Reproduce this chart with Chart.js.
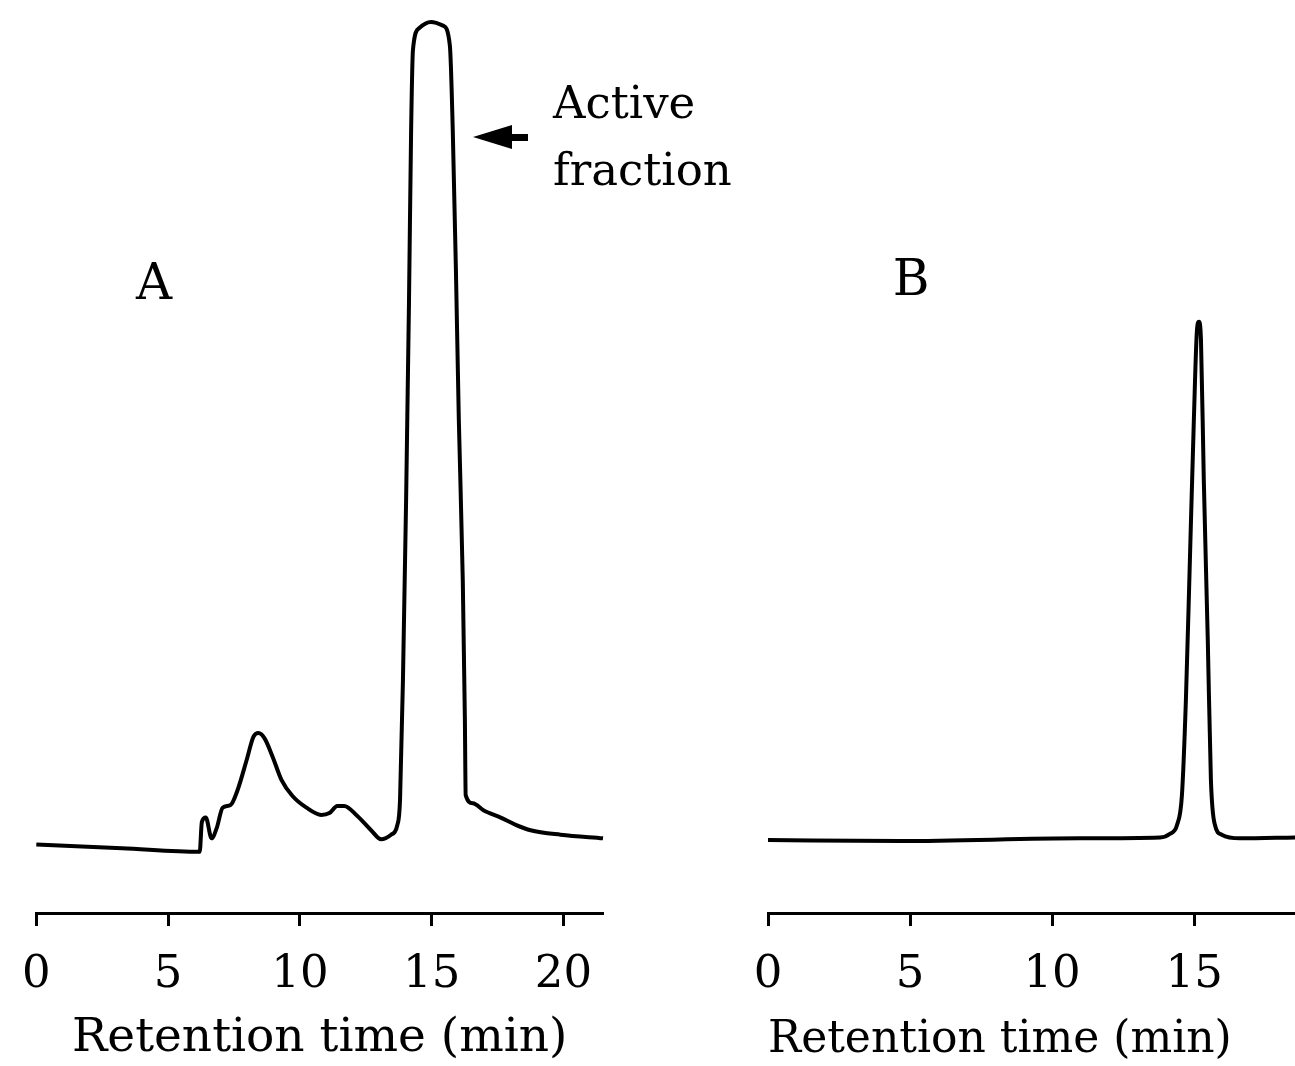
<!DOCTYPE html>
<html>
<head>
<meta charset="utf-8">
<script src="https://cdn.jsdelivr.net/npm/chart.js@4.4.1/dist/chart.umd.min.js"></script>
<style>
  body { margin: 0; background: #fff; }
  #wrap { position: relative; width: 1295px; height: 1066px; overflow: hidden; background: #fff; }
  canvas { position: absolute; top: 0; }
  #chartA { left: 0; }
  #chartB { left: 640px; }
</style>
</head>
<body>
<div id="wrap">
  <canvas id="chartA" width="760" height="1066"></canvas>
  <canvas id="chartB" width="655" height="1066"></canvas>
</div>
<script>
// panel A: crude extract, retention time (min) vs detector response (arbitrary units)
const timeA = [
  0, 3.25, 6.2, 6.28, 6.43, 6.65, 6.84, 7.07, 7.37, 7.64, 7.98, 8.24, 8.43, 8.66,
  8.96, 9.3, 9.72, 10.25, 10.81, 11.12, 11.42, 11.68, 12.17, 12.7, 13.08, 13.46,
  13.69, 13.8, 13.91, 14.03, 14.14, 14.22, 14.29, 14.52, 14.97, 15.43, 15.69,
  15.8, 15.92, 16.03, 16.18, 16.26, 16.29, 16.56, 16.98, 17.62, 18.19, 18.75,
  19.89, 21.5
];
const signalA = [
  7.6, 7.2, 6.8, 10.1, 10.6, 8.3, 9.4, 11.7, 12.0, 13.7, 17.0, 19.6, 20.0, 19.4,
  17.4, 14.8, 13.0, 11.7, 10.9, 11.1, 11.9, 11.9, 10.8, 9.2, 8.2, 8.7,
  9.7, 12.6, 25.9, 45.9, 68.1, 87.0, 95.9, 98.3, 99.0, 98.6, 96.4,
  87.0, 71.4, 54.8, 37.0, 21.4, 13.1, 12.2, 11.4, 10.6, 9.8, 9.2,
  8.7, 8.3
];

// panel B: purified active fraction
const timeB = [
  0, 4.66, 10.98, 13.8, 14.15, 14.4, 14.57, 14.71, 14.85, 14.99, 15.1, 15.17,
  15.24, 15.34, 15.48, 15.59, 15.73, 15.97, 16.61, 18.55
];
const signalB = [
  8.1, 8.0, 8.3, 8.4, 8.8, 9.8, 13.1, 23.7, 39.2, 54.8, 64.8, 65.7,
  63.7, 48.1, 30.3, 14.8, 9.8, 8.7, 8.3, 8.4
];

const xTicks = [0, 5, 10, 15, 20];
const xTitle = "Retention time (min)";

const serif = "'DejaVu Serif', 'Liberation Serif', serif";

function toPoints(xs, ys) {
  return xs.map((x, i) => ({ x: x, y: ys[i] }));
}

function makeConfig(points, xMax, padLeft, padRight, titleAlign, titleSize, extra) {
  return {
    type: "line",
    data: {
      datasets: [
        {
          data: points,
          borderColor: "#000",
          borderWidth: 4,
          pointRadius: 0,
          fill: false,
          cubicInterpolationMode: "monotone",
        },
      ],
    },
    options: {
      responsive: false,
      animation: false,
      devicePixelRatio: 1,
      clip: false,
      layout: { padding: { left: padLeft, right: padRight, top: 13, bottom: 0 } },
      plugins: { legend: { display: false }, tooltip: { enabled: false } },
      scales: {
        x: {
          type: "linear",
          min: 0,
          max: xMax,
          afterBuildTicks: (scale) => {
            scale.ticks = xTicks.filter((v) => v <= xMax).map((v) => ({ value: v }));
          },
          afterFit: (scale) => {
            scale.height = 153;
          },
          grid: {
            display: true,
            drawOnChartArea: false,
            drawTicks: true,
            tickLength: 13,
            tickWidth: 3,
            color: "#000",
          },
          border: { display: true, color: "#000", width: 3 },
          ticks: {
            color: "#000",
            padding: 22,
            maxRotation: 0,
            autoSkip: false,
            font: { family: serif, size: 45 },
          },
          title: {
            display: true,
            text: xTitle,
            color: "#000",
            align: titleAlign,
            padding: { top: 0, bottom: 1 },
            font: { family: serif, size: titleSize, lineHeight: 1.1 },
          },
        },
        y: { display: false, min: 0, max: 100 },
      },
    },
    plugins: [extra],
  };
}

const notesA = {
  id: "notesA",
  afterDraw(chart) {
    const ctx = chart.ctx;
    ctx.save();
    ctx.fillStyle = "#000";
    ctx.font = "50px " + serif;
    ctx.textAlign = "center";
    ctx.textBaseline = "middle";
    ctx.fillText("A", 154, 286);

    ctx.font = "45px " + serif;
    ctx.textAlign = "left";
    ctx.fillText("Active", 553, 106);
    ctx.fillText("fraction", 553, 173);

    // arrow pointing at the main peak
    ctx.beginPath();
    ctx.moveTo(473, 137);
    ctx.lineTo(512, 125);
    ctx.lineTo(512, 149);
    ctx.closePath();
    ctx.fill();
    ctx.fillRect(505, 134, 23, 7);
    ctx.restore();
  },
};

const notesB = {
  id: "notesB",
  afterDraw(chart) {
    const ctx = chart.ctx;
    ctx.save();
    ctx.fillStyle = "#000";
    ctx.font = "50px " + serif;
    ctx.textAlign = "center";
    ctx.textBaseline = "middle";
    ctx.fillText("B", 271, 282);
    ctx.restore();
  },
};

new Chart(
  document.getElementById("chartA"),
  makeConfig(toPoints(timeA, signalA), 21.5, 34, 157, "center", 47, notesA)
);
new Chart(
  document.getElementById("chartB"),
  makeConfig(toPoints(timeB, signalB), 18.55, 128, 0, "start", 44, notesB)
);
</script>
</body>
</html>
